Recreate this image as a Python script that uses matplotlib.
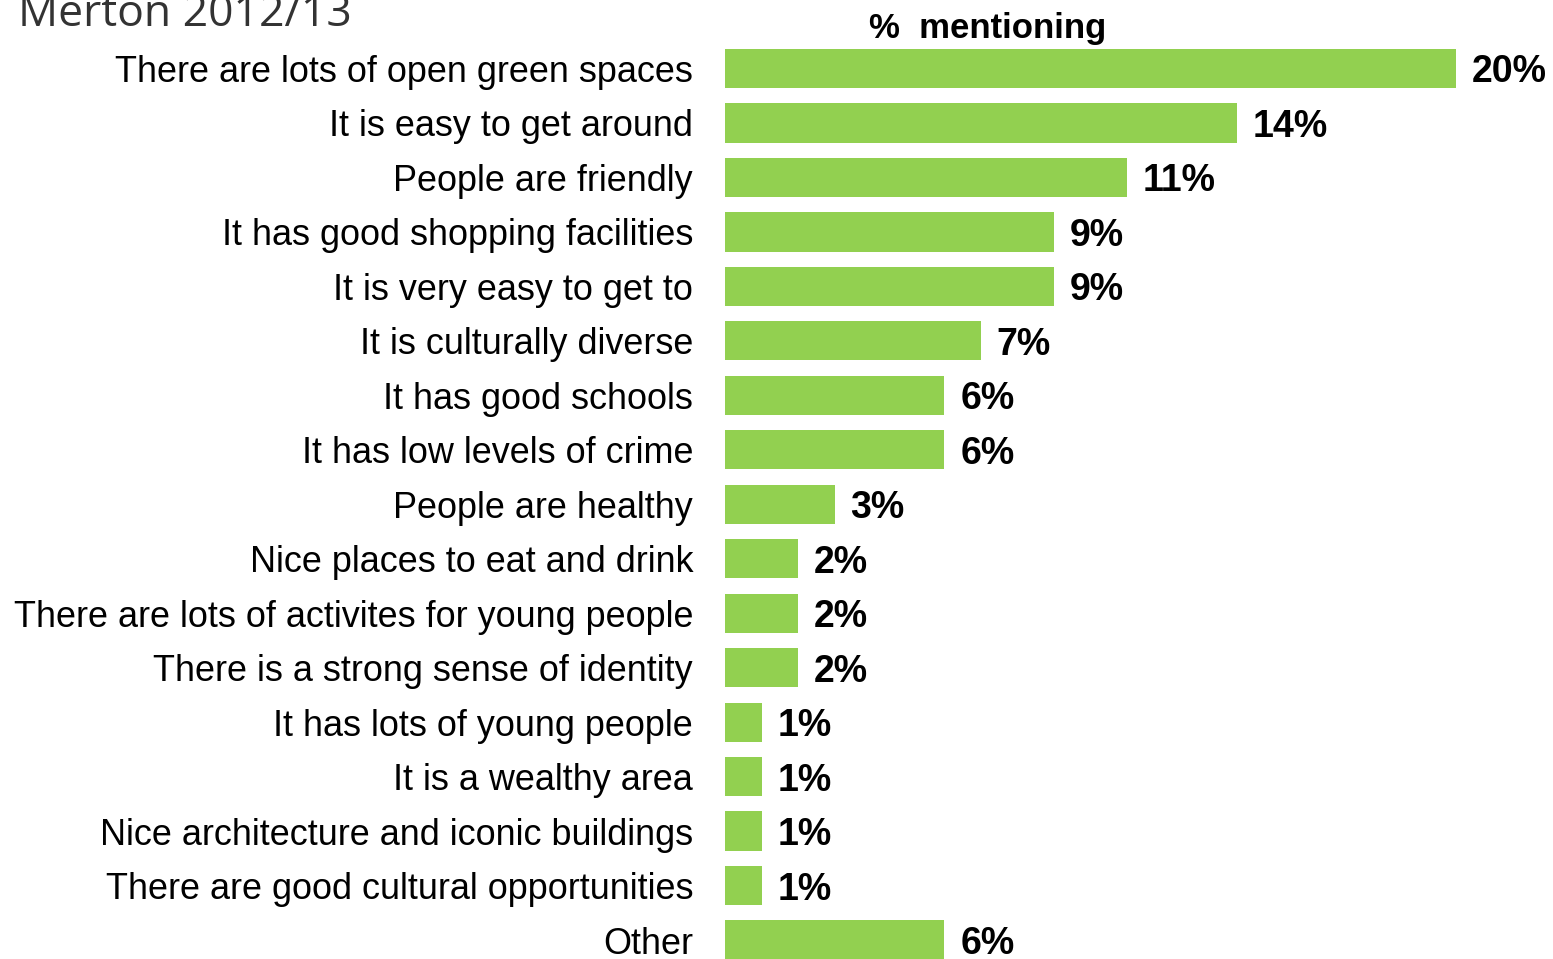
import matplotlib.pyplot as plt

categories = [
    "There are lots of open green spaces",
    "It is easy to get around",
    "People are friendly",
    "It has good shopping facilities",
    "It is very easy to get to",
    "It is culturally diverse",
    "It has good schools",
    "It has low levels of crime",
    "People are healthy",
    "Nice places to eat and drink",
    "There are lots of activites for young people",
    "There is a strong sense of identity",
    "It has lots of young people",
    "It is a wealthy area",
    "Nice architecture and iconic buildings",
    "There are good cultural opportunities",
    "Other",
]
values = [20, 14, 11, 9, 9, 7, 6, 6, 3, 2, 2, 2, 1, 1, 1, 1, 6]

BAR_COLOR = "#92D050"
W, H = 1553, 959

fig = plt.figure(figsize=(W / 100, H / 100), dpi=100)
# axes placed so that 0% sits at x=725px and 20% at x=1456px
ax = fig.add_axes([725 / W, 1 - 967.25 / H, 731 / W, 926 / H])

ypos = list(range(len(categories)))
ax.barh(ypos, values, height=0.72, color=BAR_COLOR)
ax.set_xlim(0, 20)
ax.set_ylim(len(categories) - 0.5, -0.5)

ax.set_yticks(ypos)
ax.set_yticklabels(categories, fontsize=25.9, family="Liberation Sans")
ax.tick_params(axis="y", length=0, pad=23)
ax.set_xticks([])
for spine in ax.spines.values():
    spine.set_visible(False)

for y, v in zip(ypos, values):
    ax.annotate(
        f"{v}%",
        xy=(v, y),
        xytext=(11.5, 0),
        textcoords="offset points",
        va="center_baseline",
        ha="left",
        fontsize=27,
        fontweight="bold",
        family="Liberation Sans",
        annotation_clip=False,
    )

fig.text(988 / W, 1 - 38 / H, "%  mentioning", ha="center", va="baseline",
         fontsize=25, fontweight="bold", family="Liberation Sans")
fig.text(18 / W, 1 - 26 / H, "Merton 2012/13", ha="left", va="baseline",
         fontsize=32, color="#333333", family="Open Sans")

fig.savefig("out.png", dpi=100)
